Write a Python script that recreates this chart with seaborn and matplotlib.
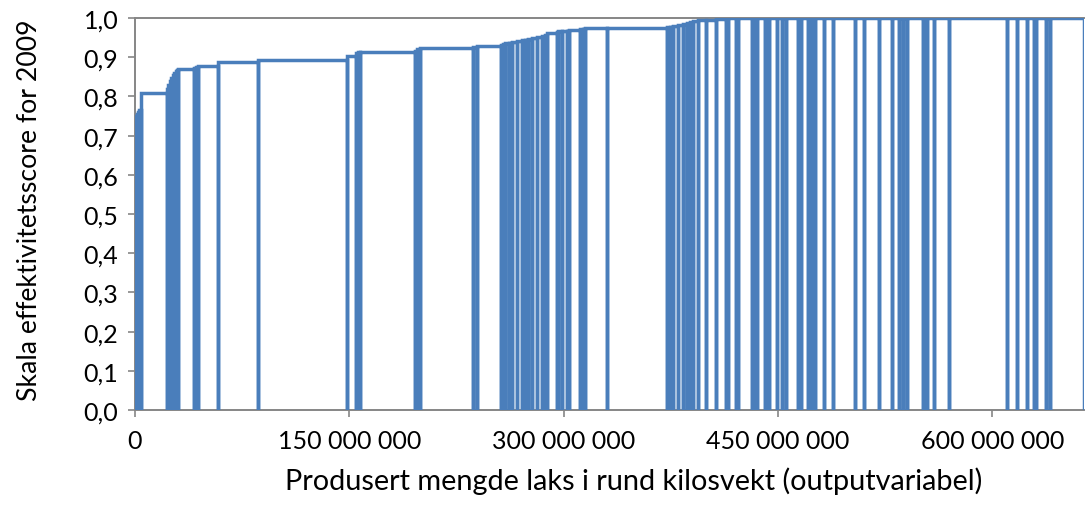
import numpy as np
import pandas as pd
import matplotlib
matplotlib.use("Agg")
import matplotlib.pyplot as plt
import seaborn as sns
from matplotlib.ticker import FuncFormatter, FixedLocator

# Firm output (million kg, round weight), sorted by scale efficiency score
output_mkg = [
    0.4, 0.5, 0.6, 0.7, 0.9, 1.1,
    18.2,
    1.0, 1.0, 1.0, 1.0, 1.0, 1.0, 1.0, 1.0,
    10.9, 1.3, 1.5, 14.0, 28.0, 62.3, 6.3, 1.3, 1.4, 38.5,
    1.5, 2.0, 37.1, 2.8, 16.8, 1.4, 1.4, 2.8, 2.1,
    3.5, 3.5, 2.1, 2.1, 2.8, 3.5, 3.5, 2.1, 1.4, 7.0,
    0.7, 2.8, 3.5, 1.4, 7.7, 2.1, 1.4, 15.4, 42.0,
    2.1, 2.1, 3.5, 3.5, 2.8, 2.1, 2.1, 3.5, 5.6, 7.0, 7.0, 1.4,
    5.6, 1.4, 9.8, 1.4, 2.1, 5.6, 1.4, 1.4, 5.6, 3.5, 2.8, 8.4,
    2.1, 4.9, 1.4, 2.1, 1.4, 6.3, 6.3, 15.4, 6.3, 10.5, 9.1, 4.9,
    2.8, 2.8, 11.2, 1.4, 1.4, 4.9, 10.5, 40.6, 7.0, 7.0, 4.9, 1.4,
    7.0, 2.8, 23.8,
]
score = [
    0.735, 0.745, 0.750, 0.755, 0.760, 0.765,
    0.808,
    0.818, 0.830, 0.840, 0.848, 0.855, 0.860, 0.865, 0.868,
    0.871, 0.873, 0.875, 0.877, 0.888, 0.893, 0.903, 0.910, 0.912, 0.914,
    0.917, 0.920, 0.923, 0.926, 0.929, 0.931, 0.933, 0.935, 0.937,
    0.940, 0.942, 0.944, 0.945, 0.947, 0.949, 0.951, 0.953, 0.957, 0.963,
    0.964, 0.966, 0.967, 0.968, 0.969, 0.971, 0.972, 0.974, 0.974,
    0.976, 0.978, 0.980, 0.982, 0.985, 0.988, 0.990, 0.992, 0.994, 0.996, 0.997, 0.998,
    1.0, 1.0, 1.0, 1.0, 1.0, 1.0, 1.0, 1.0, 1.0, 1.0, 1.0, 1.0,
    1.0, 1.0, 1.0, 1.0, 1.0, 1.0, 1.0, 1.0, 1.0, 1.0, 1.0, 1.0,
    1.0, 1.0, 1.0, 1.0, 1.0, 1.0, 1.0, 1.0, 1.0, 1.0, 1.0, 1.0,
    1.0, 1.0, 1.0,
]
x_ticks = [0, 150_000_000, 300_000_000, 450_000_000, 600_000_000]
y_ticks = [0.0, 0.1, 0.2, 0.3, 0.4, 0.5, 0.6, 0.7, 0.8, 0.9, 1.0]
x_label = "Produsert mengde laks i rund kilosvekt (outputvariabel)"
y_label = "Skala effektivitetsscore for 2009"

# Build the Salter-style outline from the firm data
out_kg = np.array(output_mkg) * 1e6
ends = np.cumsum(out_kg)
starts = ends - out_kg
sc = np.array(score)
px, py = [], []
for s, e, v in zip(starts, ends, sc):
    px += [s, s, e, e]
    py += [0.0, v, v, 0.0]
df = pd.DataFrame({"x": px, "y": py})

sns.set_theme(style="white")
plt.rcParams["font.family"] = ["Lato", "DejaVu Sans"]

fig = plt.figure(figsize=(10.86, 5.06), dpi=100)
ax = fig.add_axes([135 / 1086, (506 - 411) / 506, (1084 - 135) / 1086, (411 - 19) / 506])

blue = "#4A7EBB"
sns.lineplot(data=df, x="x", y="y", sort=False, estimator=None, ax=ax,
             color=blue, linewidth=2.5, solid_joinstyle="miter", clip_on=True)

ax.set_xlim(0, ends[-1])
ax.set_ylim(0, 1.0)
ax.xaxis.set_major_locator(FixedLocator(x_ticks))
ax.yaxis.set_major_locator(FixedLocator(y_ticks))
ax.xaxis.set_major_formatter(FuncFormatter(lambda v, p: f"{int(round(v)):,}".replace(",", " ")))
ax.yaxis.set_major_formatter(FuncFormatter(lambda v, p: f"{v:.1f}".replace(".", ",")))

gray = "#868686"
for side in ["left", "bottom", "top"]:
    ax.spines[side].set_visible(True)
    ax.spines[side].set_color(gray)
    ax.spines[side].set_linewidth(1.4)
    ax.spines[side].set_zorder(1)
ax.spines["right"].set_visible(False)

ax.tick_params(axis="both", which="major", direction="out", length=5, width=1.2,
               color=gray, labelcolor="black", labelsize=18)
ax.tick_params(axis="x", pad=9, bottom=True)
ax.tick_params(axis="y", pad=7, left=True)

ax.set_xlabel(x_label, fontsize=20.8, color="black")
ax.set_ylabel(y_label, fontsize=19.2, color="black")
ax.xaxis.set_label_coords((634 - 135) / 949, -(481 - 411) / 392, transform=ax.transAxes)
ax.xaxis.label.set_va("center")
ax.yaxis.set_label_coords(-(135 - 30) / 949, (411 - 210) / 392, transform=ax.transAxes)
ax.yaxis.label.set_va("center")
ax.grid(False)

fig.savefig("out.png", dpi=100)
